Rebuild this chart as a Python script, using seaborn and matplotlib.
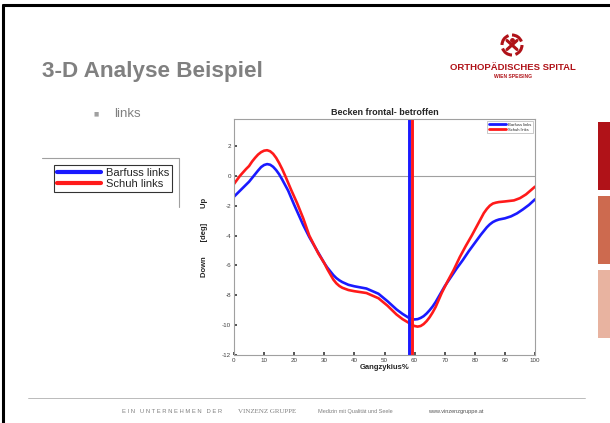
import matplotlib
matplotlib.use("Agg")
import matplotlib.pyplot as plt
import seaborn as sns
import pandas as pd
from matplotlib.lines import Line2D
from matplotlib.patches import Arc, Rectangle

sns.set_theme(style="white")
plt.rcParams['font.family'] = ['Liberation Sans', 'DejaVu Sans']
plt.rcParams['axes.unicode_minus'] = False

# data
barfuss_x = [0, 2, 4, 5, 6, 7, 8, 9, 10, 11, 12, 13, 14, 15, 16, 18, 20, 23, 25, 28, 30,
             31, 32, 33, 34, 35, 36, 38, 40, 44, 48, 51, 54, 56, 58, 59, 60, 61, 62, 63,
             64, 65, 66, 67, 68, 69, 70, 72, 74, 76, 78, 80, 82, 84, 85, 86, 87, 88, 90,
             92, 94, 96, 98, 100]
barfuss_y = [-1.4, -1.0, -0.6, -0.4, -0.15, 0.1, 0.35, 0.58, 0.72, 0.78, 0.74, 0.6, 0.38,
             0.1, -0.25, -1.0, -1.95, -3.3, -4.1, -5.15, -5.85, -6.15, -6.4, -6.65, -6.85,
             -7.0, -7.12, -7.3, -7.4, -7.55, -7.9, -8.4, -8.95, -9.25, -9.5, -9.58, -9.62,
             -9.6, -9.52, -9.4, -9.22, -9.0, -8.75, -8.45, -8.1, -7.75, -7.4, -6.8, -6.2,
             -5.65, -5.05, -4.5, -3.95, -3.45, -3.25, -3.1, -3.0, -2.93, -2.85, -2.72,
             -2.52, -2.25, -1.95, -1.58]
schuh_x = [0, 2, 4, 5, 6, 7, 8, 9, 10, 11, 12, 13, 14, 15, 16, 17, 19, 21, 23, 25, 28, 30,
           31, 32, 33, 34, 35, 36, 38, 40, 44, 48, 51, 54, 56, 58, 59, 60, 61, 62, 63, 64,
           65, 66, 67, 69, 71, 73, 75, 77, 79, 81, 83, 84, 85, 86, 87, 88, 90, 93, 95, 97,
           100]
schuh_y = [-0.55, 0.0, 0.45, 0.65, 0.95, 1.2, 1.42, 1.58, 1.68, 1.71, 1.64, 1.47, 1.2,
           0.85, 0.45, 0.0, -0.95, -1.85, -2.85, -4.0, -5.2, -5.85, -6.25, -6.6, -6.95,
           -7.2, -7.38, -7.5, -7.65, -7.73, -7.85, -8.2, -8.7, -9.29, -9.6, -9.84, -9.97,
           -10.06, -10.1, -10.06, -9.93, -9.73, -9.47, -9.15, -8.78, -7.85, -7.05, -6.3,
           -5.45, -4.7, -4.0, -3.25, -2.5, -2.22, -2.0, -1.86, -1.8, -1.76, -1.72, -1.65,
           -1.5, -1.25, -0.73]
toe_off = {"Barfuss links": 58, "Schuh links": 59}
labels = ["Barfuss links", "Schuh links"]
colors = {"Barfuss links": "#1a1aff", "Schuh links": "#ff1a1a"}

df = pd.concat([
    pd.DataFrame({"x": barfuss_x, "y": barfuss_y, "serie": labels[0]}),
    pd.DataFrame({"x": schuh_x, "y": schuh_y, "serie": labels[1]}),
])

fig = plt.figure(figsize=(6.1, 4.23), dpi=100)
W, H = 610, 423

def fx(px):
    return px / W

def fy(py):
    return 1 - py / H

# slide frame
fig.add_artist(Line2D([fx(3), fx(3)], [0, fy(5)], color="black", lw=2.2))
fig.add_artist(Line2D([fx(3), 1], [fy(5), fy(5)], color="black", lw=2.2))

# slide title and bullet
fig.text(fx(42), fy(72), "3-D Analyse Beispiel", fontsize=16.2, fontweight="bold",
         color="#808080", va="center")
fig.text(fx(93), fy(114), "\u25a0", fontsize=4, color="#a0a0a0", va="center",
         family="DejaVu Sans")
fig.text(fx(114), fy(114), "links", fontsize=9.5, color="#808080", va="center")

# logo
fig.text(fx(513), fy(68), "ORTHOPÄDISCHES SPITAL", fontsize=6.8, fontweight="bold",
         color="#b01218", ha="center", va="center")
fig.text(fx(513), fy(77), "WIEN SPEISING", fontsize=3.6, fontweight="bold",
         color="#b01218", ha="center", va="center")
lax = fig.add_axes([fx(500), fy(57), 24 / W, 24 / H])
lax.set_xlim(-1.2, 1.2)
lax.set_ylim(-1.2, 1.2)
lax.set_aspect("equal")
lax.axis("off")
for a in [20, 110, 200, 290]:
    lax.add_patch(Arc((0, 0), 2, 2, theta1=a, theta2=a + 70, color="#b01218", lw=2.2))
lax.plot([-0.5, 0.5], [0.45, -0.45], color="#b01218", lw=2.2)
lax.plot([0.5, -0.5], [0.45, -0.45], color="#b01218", lw=2.2)
lax.plot([0], [0.45], "o", color="#b01218", ms=2.5)

# left legend area
fig.add_artist(Line2D([fx(42), fx(179)], [fy(158), fy(158)], color="#a0a0a0", lw=0.8))
fig.add_artist(Line2D([fx(179), fx(179)], [fy(158), fy(207)], color="#a0a0a0", lw=0.8))

# right colour bars
for (top, bot, c) in [(122, 190, "#b01218"), (196, 264, "#cd6a4f"), (270, 338, "#e8b3a0")]:
    fig.add_artist(Rectangle((fx(598), fy(bot)), fx(12), (bot - top) / H, color=c, lw=0))

# footer
fig.add_artist(Line2D([fx(28), fx(585)], [fy(398), fy(398)], color="#b0b0b0", lw=0.6))
fig.text(fx(122), fy(411), "E I N   U N T E R N E H M E N   D E R", fontsize=4.2,
         color="#808080", va="center")
fig.text(fx(238), fy(411), "VINZENZ GRUPPE", fontsize=5, color="#808080", va="center",
         family="Liberation Serif")
fig.text(fx(318), fy(411), "Medizin mit Qualität und Seele", fontsize=4, color="#808080",
         va="center")
fig.text(fx(428), fy(411), "www.vinzenzgruppe.at", fontsize=4, color="#505050", va="center")

# chart
ax = fig.add_axes([fx(234), fy(355), fx(535) - fx(234), (355 - 119) / H])
sns.lineplot(data=df, x="x", y="y", hue="serie", palette=colors, lw=1.9, ax=ax,
             legend=False, sort=True, solid_joinstyle="round")
ax.axhline(0, color="#a0a0a0", lw=0.8, zorder=0)
for name in labels:
    ax.axvline(toe_off[name], color=colors[name], lw=2.1)

ax.set_xlim(0, 100)
ax.set_ylim(-12, 3.8)
ax.set_xticks(range(0, 101, 10))
ax.set_yticks(range(-12, 3, 2))
ax.tick_params(labelsize=4.5, colors="#404040", length=2, direction="in", pad=2,
               bottom=True, left=True)
for s in ax.spines.values():
    s.set_color("#a0a0a0")
    s.set_linewidth(0.8)
ax.set_title("Becken frontal- betroffen", fontsize=6.5, fontweight="bold", pad=3)
ax.set_xlabel("Gangzykius%", fontsize=5.5, fontweight="bold", labelpad=1)
ax.set_ylabel("Down       [deg]       Up", fontsize=5.5, fontweight="bold", labelpad=10)

handles = [Line2D([], [], color=colors[n], lw=2) for n in labels]
leg = ax.legend(handles, labels, loc="upper right", fontsize=3, handlelength=4,
                frameon=True, fancybox=False, borderpad=0.4, labelspacing=0.2,
                handletextpad=0.5, borderaxespad=0.5)
leg.get_frame().set_edgecolor("#a0a0a0")
leg.get_frame().set_linewidth(0.5)

fleg = fig.legend([Line2D([], [], color=colors[n], lw=3) for n in labels], labels,
                  loc="upper left", bbox_to_anchor=(fx(54), fy(165)), fontsize=8,
                  handlelength=4.0, frameon=True, fancybox=False, borderpad=0.25,
                  labelspacing=0.1, handletextpad=0.4, borderaxespad=0)
fleg.get_frame().set_edgecolor("black")
fleg.get_frame().set_linewidth(0.8)

fig.savefig("out.png", dpi=100)
